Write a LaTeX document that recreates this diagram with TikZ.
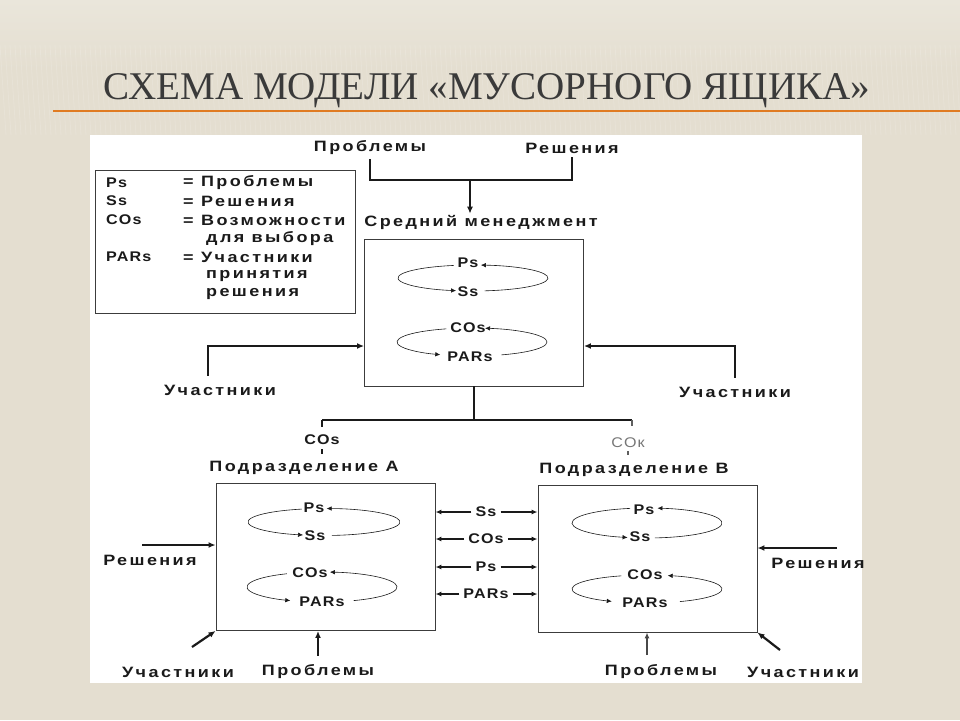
\documentclass[tikz,border=0pt]{standalone}
\usepackage{fontspec}
\setmainfont{Liberation Sans}
\newfontfamily\titlefont{Liberation Serif}
\newfontfamily\cyrfont[LetterSpace=16,FakeStretch=1.2]{Liberation Sans Bold}
\newfontfamily\latfont[LetterSpace=8,FakeStretch=1.15]{Liberation Sans Bold}
\newfontfamily\latlight[LetterSpace=8,FakeStretch=1.15]{Liberation Sans}
\usetikzlibrary{arrows.meta}
\definecolor{ink}{HTML}{1A1A1A}
\definecolor{bgc}{HTML}{E4DED0}
\definecolor{bgl}{HTML}{EAE6DB}
\definecolor{orng}{HTML}{E07B22}
\definecolor{ttl}{HTML}{3A3A3A}
\newcommand\gbloop[8]{%
  \draw[cyca] (#1,#2) ++(#5:#3 and #4) arc[start angle=#5,end angle=#6,x radius=#3,y radius=#4];
  \draw[cyca] (#1,#2) ++(#7:#3 and #4) arc[start angle=#7,end angle=#8,x radius=#3,y radius=#4];
}
\tikzset{
  txt/.style={font={\cyrfont\fontsize{15pt}{17pt}\selectfont}, inner sep=1pt, text=ink},
  lab/.style={font={\latfont\fontsize{14pt}{16pt}\selectfont}, inner sep=1pt, text=ink},
  conn/.style={line width=2.2pt, draw=ink},
  arr/.style={conn,-{Latex[length=7pt,width=6pt]}},
  arrthin/.style={line width=1.2pt, draw=ink!80,-{Latex[length=6pt,width=5pt]}},
  cyc/.style={line width=0.6pt, draw=ink},
  cyca/.style={cyc,-{Latex[length=5pt,width=4.5pt]}},
  box/.style={draw=ink!85, line width=0.9pt, minimum width=219pt, minimum height=147pt, inner sep=0pt},
  tick/.style={line width=1.6pt, draw=ink},
  stripe/.style={draw=white, opacity=0.14, line width=0.8pt},
}
\begin{document}
\begin{tikzpicture}[x=1pt,y=-1pt]
\useasboundingbox (0,0) rectangle (960,720);
\fill[bgc] (0,0) rectangle (960,720);
\shade[top color=bgl, bottom color=bgc] (0,0) rectangle (960,70);
\foreach \i in {0,5,...,960}{
  \draw[stripe] (\i,45) -- (\i+6,135);
}
% title
\node[anchor=south west, inner sep=0pt, text=ttl] (title) at (103,108)
  {\resizebox{767pt}{26pt}{\titlefont СХЕМА МОДЕЛИ «МУСОРНОГО ЯЩИКА»}};
\draw[orng, line width=2pt] (53,110.5) -- (960,110.5);
% white panel
\fill[white] (90,135) rectangle (862,683);

% legend
\node[draw=ink!85, line width=0.8pt, minimum width=260pt, minimum height=143pt, inner sep=0pt] (lg) at (225,241.5) {};
\node[lab, anchor=west] (l1a) at (105,183) {Ps};
\node[txt, anchor=west] (l1b) at (182,183) {= Проблемы};
\node[lab, anchor=west] (l2a) at (105,201) {Ss};
\node[txt, anchor=west] (l2b) at (182,201) {= Решения};
\node[lab, anchor=west] (l3a) at (105,220) {COs};
\node[txt, anchor=west] (l3b) at (182,220) {= Возможности};
\node[txt, anchor=west] (l3c) at (205,239) {для выбора};
\node[lab, anchor=west] (l4a) at (105,257) {PARs};
\node[txt, anchor=west] (l4b) at (182,257) {= Участники};
\node[txt, anchor=west] (l4c) at (205,276) {принятия};
\node[txt, anchor=west] (l4d) at (205,294) {решения};

% top inputs
\node[txt] (probT) at (370,148) {Проблемы};
\node[txt] (resT) at (572,148) {Решения};
\node[txt] (smT) at (481,222) {Средний менеджмент};
\coordinate (jt) at (470,180);
\draw[conn] ([yshift=-3pt]probT.south) |- (jt) -| ([yshift=-3pt]resT.south);
\draw[arr] (jt) -- (jt |- smT.north);

% middle management box
\node[box] (mm) at (474,312.5) {};
\node[lab] (mPs) at (468,263) {Ps};
\node[lab] (mSs) at (468,292) {Ss};
\node[lab] (mCOs) at (468,328) {COs};
\node[lab] (mPAR) at (470,357) {PARs};
\gbloop{473}{278}{75}{13}{-105}{-257}{-279}{-444}
\gbloop{472}{342}{75}{14}{-110}{-245}{-293}{-440}

\node[txt] (uL) at (220,390) {Участники};
\node[txt] (uR) at (735,392) {Участники};
\draw[arr] ([xshift=-12pt,yshift=8pt]uL.north) |- ([yshift=-33.5pt]mm.west);
\draw[arr] ([yshift=8pt]uR.north) |- ([yshift=-33.5pt]mm.east);

% split to departments
\coordinate (bj) at (474,420);
\coordinate (jA) at (322,420);
\coordinate (jB) at (632,420);
\draw[conn] (mm.south) -- (bj);
\draw[conn] (jA) -- (jB);
\draw[tick] (jA) -- ++(0,7);
\draw[tick, draw=ink!70, line width=1.2pt] (jB) -- ++(0,6);
\node[lab] (cosA) at (322,440) {COs};
\node[lab, text=ink!60, font={\latlight\fontsize{14pt}{16pt}\selectfont}] (cokB) at (628,443) {COк};
\draw[tick] ([yshift=-3pt]cosA.south) -- ++(0,5);
\draw[tick, draw=ink!70, line width=1.2pt] ([yshift=-2pt]cokB.south) -- ++(0,4);
\node[txt] (podA) at (304,468) {Подразделение А};
\node[txt] (podB) at (634,470) {Подразделение В};

% department boxes
\node[box] (bA) at (325.5,557) {};
\node[box] (bB) at (647.5,558.5) {};

\node[lab] (aPs) at (314,508) {Ps};
\node[lab] (aSs) at (315,536) {Ss};
\node[lab] (aCOs) at (310,573) {COs};
\node[lab] (aPAR) at (322,602) {PARs};
\gbloop{324}{522}{76}{13.5}{-107}{-254}{-276}{-448}
\gbloop{322}{587}{75}{15}{-118}{-245}{-295}{-444}

\node[lab] (bPs) at (644,510) {Ps};
\node[lab] (bSs) at (640,537) {Ss};
\node[lab] (bCOs) at (645,575) {COs};
\node[lab] (bPAR) at (645,603) {PARs};
\gbloop{647}{523}{75}{15}{-103}{-255}{-276}{-442}
\gbloop{647}{589}{75}{14}{-110}{-242}{-296}{-434}

% exchanges between departments
\foreach \n/\t/\y in {xSs/Ss/512, xCOs/COs/539, xPs/Ps/567, xPAR/PARs/594}{
  \node[lab, inner xsep=4pt] (\n) at (486,\y) {\t};
  \draw[arr, line width=1.8pt, -{Latex[length=6pt,width=5pt]}] (\n.west) -- (\n.west -| bA.east);
  \draw[arr, line width=1.8pt, -{Latex[length=6pt,width=5pt]}] (\n.east) -- (\n.east -| bB.west);
}

% inputs to department A
\node[txt] (rA) at (150,560) {Решения};
\coordinate (rAs) at (142,545);
\draw[arr] (rAs) -- (rAs -| bA.west);
\node[txt] (uA) at (178,672) {Участники};
\coordinate (uAs) at (192,647);
\draw[arr] (uAs) -- (bA.south west);
\node[txt] (pA) at (318,672) {Проблемы};
\draw[arr] ([yshift=8pt]pA.north) -- (pA.north |- bA.south);

% inputs to department B
\node[txt] (rB) at (818,563) {Решения};
\coordinate (rBs) at (837,548);
\draw[arr] (rBs) -- (rBs -| bB.east);
\node[txt] (pB) at (661,672) {Проблемы};
\coordinate (pBs) at (647,655);
\draw[arrthin] (pBs) -- (pBs |- bB.south);
\node[txt] (uB) at (803,672) {Участники};
\coordinate (uBs) at (780,650);
\draw[arr] (uBs) -- (bB.south east);
\end{tikzpicture}
\end{document}
